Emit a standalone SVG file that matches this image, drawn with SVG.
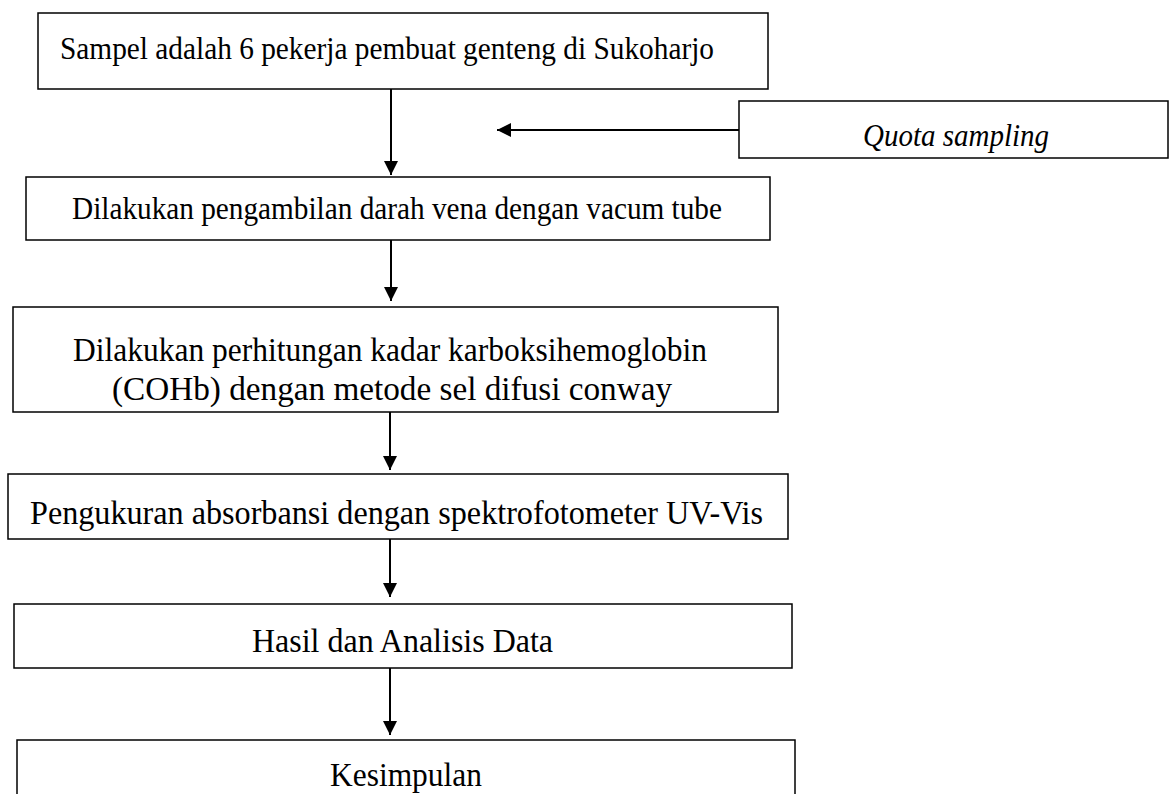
<svg xmlns="http://www.w3.org/2000/svg" width="1169" height="794" viewBox="0 0 1169 794">
<defs>
<style>
.box{fill:#fff;stroke:#000;stroke-width:1.5}
.t{font-family:'Liberation Serif','Times New Roman',Times,serif;fill:#000}
.s29{font-size:31px}
.s32{font-size:34px}
.c{stroke:#000;stroke-width:2;fill:none}
</style>
<marker id="ahv" viewBox="0 0 14 14" refX="14" refY="7" markerWidth="14" markerHeight="14" markerUnits="userSpaceOnUse" orient="auto">
<path d="M0,0 L14,7 L0,14 z" fill="#000"/>
</marker>
</defs>
<rect width="1169" height="794" fill="#fff"/>
<g id="connectors">
<line class="c" x1="391" y1="89" x2="391" y2="175" marker-end="url(#ahv)"/>
<line class="c" x1="739" y1="130" x2="497" y2="130" marker-end="url(#ahv)"/>
<line class="c" x1="391" y1="240" x2="391" y2="301" marker-end="url(#ahv)"/>
<line class="c" x1="390" y1="412" x2="390" y2="470" marker-end="url(#ahv)"/>
<line class="c" x1="390" y1="539" x2="390" y2="597" marker-end="url(#ahv)"/>
<line class="c" x1="390" y1="668" x2="390" y2="735" marker-end="url(#ahv)"/>
</g>
<g id="n1">
<rect class="box" x="38" y="13" width="730" height="76"/>
<text class="t s29" x="60" y="59" textLength="654" lengthAdjust="spacingAndGlyphs">Sampel adalah 6 pekerja pembuat genteng di Sukoharjo</text>
</g>
<g id="quota">
<rect class="box" x="739" y="101" width="429" height="57"/>
<text class="t s29" x="956" y="146" font-style="italic" text-anchor="middle" textLength="186" lengthAdjust="spacingAndGlyphs">Quota sampling</text>
</g>
<g id="n2">
<rect class="box" x="26" y="177" width="744" height="63"/>
<text class="t s29" x="72" y="219" textLength="650" lengthAdjust="spacingAndGlyphs">Dilakukan pengambilan darah vena dengan vacum tube</text>
</g>
<g id="n3">
<rect class="box" x="13" y="307" width="765" height="105"/>
<text class="t s32" x="73" y="361" textLength="634" lengthAdjust="spacingAndGlyphs">Dilakukan perhitungan kadar karboksihemoglobin</text>
<text class="t s32" x="112" y="400" textLength="560" lengthAdjust="spacingAndGlyphs">(COHb) dengan metode sel difusi conway</text>
</g>
<g id="n4">
<rect class="box" x="8" y="474" width="780" height="65"/>
<text class="t s32" x="30" y="524" textLength="733" lengthAdjust="spacingAndGlyphs">Pengukuran absorbansi dengan spektrofotometer UV-Vis</text>
</g>
<g id="n5">
<rect class="box" x="14" y="604" width="778" height="64"/>
<text class="t s32" x="252" y="652" textLength="301" lengthAdjust="spacingAndGlyphs">Hasil dan Analisis Data</text>
</g>
<g id="n6">
<rect class="box" x="17" y="740" width="778" height="70"/>
<text class="t s32" x="330" y="786" textLength="152" lengthAdjust="spacingAndGlyphs">Kesimpulan</text>
</g>
</svg>
